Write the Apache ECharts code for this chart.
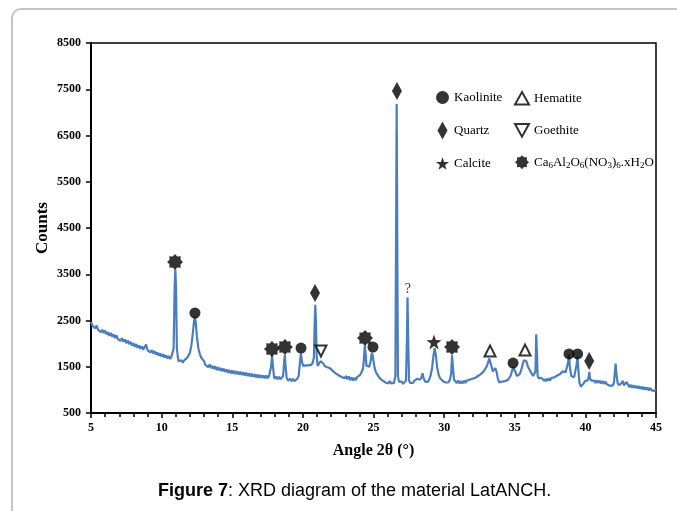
<!DOCTYPE html>
<html lang="en">
<head>
<meta charset="UTF-8">
<title>XRD LatANCH</title>
<style>
  * { margin: 0; padding: 0; }
  body { background: #fff; }
  #chart { width: 677px; height: 511px; }
</style>
</head>
<body>
<div id="chart"></div>
<script src="https://cdn.jsdelivr.net/npm/echarts@6/dist/echarts.min.js"></script>
<script>
// scan: [2theta, counts]
var xrdScan = [
  [5.0,2470],[5.1,2390],[5.2,2420],[5.3,2330],[5.4,2390],[5.5,2300],[5.6,2330],[5.7,2250],[5.8,2300],[5.9,2230],
  [6.0,2280],[6.1,2200],[6.2,2250],[6.3,2170],[6.4,2230],[6.5,2150],[6.6,2200],[6.7,2120],[6.8,2180],[6.9,2100],
  [7.0,2140],[7.1,2060],[7.2,2120],[7.3,2040],[7.4,2090],[7.5,2010],[7.6,2070],[7.7,1990],[7.8,2040],[7.9,1960],
  [8.0,2010],[8.1,1930],[8.2,1990],[8.3,1910],[8.4,1960],[8.5,1890],[8.6,1940],[8.7,1870],[8.8,1930],[8.9,1980],
  [9.0,1860],[9.1,1890],[9.2,1810],[9.3,1860],[9.4,1790],[9.5,1840],[9.6,1760],[9.7,1810],[9.8,1740],[9.9,1790],
  [10.0,1720],[10.1,1770],[10.2,1700],[10.3,1750],[10.4,1680],[10.5,1730],[10.6,1670],[10.7,1720],[10.8,1720],
  [10.85,1900],[10.92,3200],[10.97,3600],[11.02,3200],[11.08,1900],[11.15,1700],[11.2,1620],[11.3,1580],[11.4,1640],
  [11.5,1590],[11.6,1640],[11.7,1640],[11.8,1690],[11.9,1720],[12.0,1800],[12.1,1950],[12.2,2200],[12.3,2500],
  [12.36,2580],[12.42,2450],[12.5,2150],[12.6,1900],[12.7,1780],[12.8,1700],[12.9,1660],[13.0,1620],[13.1,1540],
  [13.2,1570],[13.3,1490],[13.4,1550],[13.5,1470],[13.6,1520],[13.7,1450],[13.8,1510],[13.9,1430],[14.0,1490],
  [14.1,1420],[14.2,1470],[14.3,1400],[14.4,1460],[14.5,1390],[14.6,1440],[14.7,1370],[14.8,1430],[14.9,1360],
  [15.0,1420],[15.1,1350],[15.2,1410],[15.3,1340],[15.4,1400],[15.5,1330],[15.6,1390],[15.7,1320],[15.8,1380],
  [15.9,1310],[16.0,1370],[16.1,1300],[16.2,1360],[16.3,1290],[16.4,1350],[16.5,1280],[16.6,1340],[16.7,1270],
  [16.8,1330],[16.9,1260],[17.0,1320],[17.1,1260],[17.2,1310],[17.3,1250],[17.4,1310],[17.5,1250],[17.6,1300],
  [17.7,1320],[17.75,1500],[17.82,1740],[17.88,1520],[17.95,1300],[18.0,1240],[18.1,1290],[18.2,1230],[18.3,1280],
  [18.4,1230],[18.5,1270],[18.6,1300],[18.66,1550],[18.72,1760],[18.78,1500],[18.85,1260],[18.95,1200],[19.1,1240],
  [19.2,1190],[19.3,1240],[19.4,1190],[19.5,1230],[19.6,1240],[19.7,1300],[19.78,1550],[19.86,1790],[19.94,1600],
  [20.02,1520],[20.1,1560],[20.2,1530],[20.3,1570],[20.4,1530],[20.5,1570],[20.6,1540],[20.7,1590],[20.78,1700],
  [20.84,2500],[20.88,2840],[20.92,2500],[20.98,1700],[21.05,1520],[21.15,1570],[21.25,1620],[21.35,1590],
  [21.45,1570],[21.55,1510],[21.65,1530],[21.75,1490],[21.85,1520],[21.95,1460],[22.05,1470],[22.15,1400],
  [22.25,1420],[22.35,1350],[22.45,1380],[22.55,1310],[22.65,1350],[22.75,1280],[22.85,1320],[22.95,1250],
  [23.05,1300],[23.15,1230],[23.25,1290],[23.35,1210],[23.45,1270],[23.55,1200],[23.65,1260],[23.75,1210],
  [23.85,1280],[23.95,1270],[24.05,1320],[24.15,1380],[24.25,1450],[24.32,1650],[24.38,1960],[24.44,1800],
  [24.5,1520],[24.6,1480],[24.7,1500],[24.8,1620],[24.88,1800],[24.95,1740],[25.05,1520],[25.15,1400],[25.25,1340],
  [25.35,1310],[25.45,1250],[25.55,1270],[25.65,1200],[25.75,1230],[25.85,1160],[25.95,1200],[26.05,1140],
  [26.15,1190],[26.25,1140],[26.35,1180],[26.45,1150],[26.55,1300],[26.6,4500],[26.64,7180],[26.68,4500],
  [26.73,1300],[26.8,1180],[26.9,1140],[27.0,1180],[27.1,1130],[27.2,1170],[27.3,1200],[27.36,2000],[27.41,3000],
  [27.46,2000],[27.52,1200],[27.6,1150],[27.7,1190],[27.8,1150],[27.9,1200],[28.0,1180],[28.1,1240],[28.2,1230],
  [28.3,1220],[28.4,1280],[28.47,1360],[28.54,1260],[28.65,1180],[28.75,1200],[28.85,1170],[28.95,1230],
  [29.05,1320],[29.15,1480],[29.25,1750],[29.33,1900],[29.41,1760],[29.5,1500],[29.6,1340],[29.7,1260],[29.8,1230],
  [29.9,1190],[30.0,1210],[30.1,1160],[30.2,1200],[30.3,1160],[30.4,1210],[30.5,1350],[30.56,1750],[30.62,1500],
  [30.7,1220],[30.8,1200],[30.9,1150],[31.0,1200],[31.1,1140],[31.2,1190],[31.3,1140],[31.4,1200],[31.5,1150],
  [31.6,1200],[31.7,1160],[31.8,1220],[31.9,1180],[32.0,1240],[32.1,1200],[32.2,1260],[32.3,1230],[32.4,1300],
  [32.5,1270],[32.6,1340],[32.7,1340],[32.8,1400],[32.9,1440],[33.0,1500],[33.1,1580],[33.2,1680],[33.28,1660],
  [33.36,1500],[33.45,1400],[33.55,1440],[33.63,1470],[33.72,1380],[33.8,1250],[33.9,1160],[34.0,1140],[34.1,1180],
  [34.2,1150],[34.3,1190],[34.4,1160],[34.5,1210],[34.6,1240],[34.7,1300],[34.8,1400],[34.9,1490],[34.98,1480],
  [35.06,1380],[35.15,1300],[35.25,1290],[35.35,1340],[35.45,1420],[35.55,1540],[35.65,1640],[35.73,1680],
  [35.82,1620],[35.92,1520],[36.0,1460],[36.1,1420],[36.2,1350],[36.3,1300],[36.4,1280],[36.47,1400],[36.52,2200],
  [36.57,1800],[36.62,1300],[36.7,1250],[36.8,1210],[36.9,1260],[37.0,1240],[37.1,1190],[37.2,1240],[37.3,1190],
  [37.4,1250],[37.5,1200],[37.6,1260],[37.7,1220],[37.8,1270],[37.9,1240],[38.0,1310],[38.1,1290],[38.2,1340],
  [38.3,1350],[38.4,1400],[38.5,1420],[38.6,1380],[38.7,1400],[38.78,1600],[38.84,1760],[38.9,1500],[39.0,1300],
  [39.1,1280],[39.2,1270],[39.3,1300],[39.38,1550],[39.44,1720],[39.5,1450],[39.58,1150],[39.68,1070],[39.78,1110],
  [39.88,1140],[39.98,1190],[40.08,1160],[40.18,1210],[40.24,1300],[40.28,1390],[40.33,1250],[40.42,1200],
  [40.52,1160],[40.62,1200],[40.72,1150],[40.82,1210],[40.92,1150],[41.02,1200],[41.12,1140],[41.22,1190],
  [41.32,1130],[41.42,1180],[41.52,1120],[41.62,1150],[41.72,1090],[41.82,1120],[41.92,1090],[42.02,1150],
  [42.08,1350],[42.14,1570],[42.2,1350],[42.28,1150],[42.38,1100],[42.48,1130],[42.58,1150],[42.65,1200],
  [42.72,1100],[42.82,1090],[42.92,1170],[43.0,1120],[43.1,1060],[43.2,1110],[43.3,1050],[43.4,1100],[43.5,1040],
  [43.6,1090],[43.7,1030],[43.8,1080],[43.9,1020],[44.0,1070],[44.1,1010],[44.2,1060],[44.3,1000],[44.4,1050],
  [44.5,990],[44.6,1040],[44.7,990],[44.8,1030],[44.9,980],[45.0,1010]
];

// where the phase symbols sit above the peaks
var kaoliniteAt = [[12.36,2662],[19.87,1905],[24.96,1927],[34.88,1580],[38.84,1776],[39.45,1776]];
var quartzAt = [[20.86,3095],[26.66,7462],[40.27,1624]];
var calciteAt = [[29.28,2035]];
var hematiteAt = [[33.25,1840],[35.73,1860]];
var goethiteAt = [[21.28,1840]];
var ca6At = [[10.95,3765],[17.81,1884],[18.73,1927],[24.40,2120],[30.56,1927]];
var unknownAt = [[27.44,3180]];

var xTicks = { min: 5, max: 45, step: 5 };
var yTicks = { min: 500, max: 8500, step: 1000 };

var CA6_NAME = 'Ca6Al2O6(NO3)6.xH2O';
var burstPath = 'path://M20 10 L16.93 12.87 L17.07 17.07 L12.87 16.93 L10 20 L7.13 16.93 L2.93 17.07 L3.07 12.87 L0 10 L3.07 7.13 L2.93 2.93 L7.13 3.07 L10 0 L12.87 3.07 L17.07 2.93 L16.93 7.13 Z';
var starPath = 'path://M10 0 L12.35 6.76 L19.51 6.91 L13.8 11.24 L15.88 18.09 L10 14 L4.12 18.09 L6.2 11.24 L0.49 6.91 L7.65 6.76 Z';
var diamondPath = 'path://M5 0 L10 9 L5 18 L0 9 Z';
var upTriPath = 'path://M10 0 L20 18 L0 18 Z';
var downTriPath = 'path://M0 0 L20 0 L10 18 Z';

var serif = '"Liberation Serif", "Times New Roman", serif';

var chart = echarts.init(document.getElementById('chart'));

function legendFmt(name) {
    if (name === CA6_NAME) {
        return '{n|Ca}{s|6}{n|Al}{s|2}{n|O}{s|6}{n|(NO}{s|3}{n|)}{s|6}{n|.xH}{s|2}{n|O}';
    }
    return '{n|' + name + '}';
}
var legendText = {
    fontFamily: serif,
    color: '#000',
    rich: {
        n: { fontFamily: serif, fontSize: 13, color: '#000' },
        s: { fontFamily: serif, fontSize: 9, color: '#000', padding: [7, 0, 0, 0] }
    }
};

function phase(name, data, symbol, size, style, rotate) {
    return {
        name: name,
        type: 'scatter',
        data: data,
        symbol: symbol,
        symbolSize: size,
        symbolRotate: rotate || 0,
        itemStyle: style,
        z: 5,
        silent: true
    };
}

var option = {
    animation: false,
    backgroundColor: '#fff',
    grid: {
        left: 91, right: 21, top: 43, bottom: 98,
        show: true, borderColor: '#000', borderWidth: 1.5, backgroundColor: 'transparent'
    },
    legend: [
        {
            data: ['Kaolinite', { name: 'Quartz', icon: diamondPath }, 'Calcite'],
            orient: 'vertical', left: 431, top: 86,
            itemWidth: 13, itemHeight: 18, itemGap: 17.5,
            selectedMode: false, formatter: legendFmt, textStyle: legendText
        },
        {
            data: [{ name: 'Hematite', icon: upTriPath }, { name: 'Goethite', icon: downTriPath }, CA6_NAME],
            orient: 'vertical', left: 509, top: 86,
            itemWidth: 14, itemHeight: 18, itemGap: 17.5,
            selectedMode: false, formatter: legendFmt, textStyle: legendText
        }
    ],
    xAxis: {
        type: 'value',
        min: xTicks.min, max: xTicks.max, interval: xTicks.step,
        name: 'Angle 2θ (°)',
        nameLocation: 'middle', nameGap: 30,
        nameTextStyle: { fontFamily: serif, fontWeight: 'bold', fontSize: 16, color: '#000' },
        axisLine: { lineStyle: { color: '#000', width: 2 } },
        axisTick: { inside: false, length: 5, lineStyle: { color: '#000', width: 1.5 } },
        minorTick: { show: true, splitNumber: 5, length: 4, lineStyle: { color: '#000', width: 1.5 } },
        axisLabel: { fontFamily: serif, fontWeight: 'bold', fontSize: 12, color: '#000', margin: 9 },
        splitLine: { show: false }
    },
    yAxis: {
        type: 'value',
        min: yTicks.min, max: yTicks.max, interval: yTicks.step,
        name: 'Counts',
        nameLocation: 'middle', nameGap: 40,
        nameMoveOverlap: false,
        nameTextStyle: { fontFamily: serif, fontWeight: 'bold', fontSize: 17, color: '#000' },
        axisLine: { lineStyle: { color: '#000', width: 2 } },
        axisTick: { inside: false, length: 5, lineStyle: { color: '#000', width: 1.5 } },
        axisLabel: {
            fontFamily: serif, fontWeight: 'bold', fontSize: 12, color: '#000', margin: 10,
            formatter: function (v) { return String(v); }
        },
        splitLine: { show: false }
    },
    series: [
        {
            name: 'scan',
            type: 'line',
            data: xrdScan,
            showSymbol: false,
            lineStyle: { color: '#4a7ebf', width: 2.2 },
            silent: true,
            z: 2
        },
        phase('Kaolinite', kaoliniteAt, 'circle', 11, { color: '#000' }),
        phase('Quartz', quartzAt, 'diamond', [10, 18], { color: '#000' }),
        phase('Calcite', calciteAt, starPath, 15, { color: '#000' }),
        phase('Hematite', hematiteAt, 'triangle', [11, 11], { color: '#fff', borderColor: '#000', borderWidth: 2 }),
        phase('Goethite', goethiteAt, 'triangle', [11, 11], { color: '#fff', borderColor: '#000', borderWidth: 2 }, 180),
        phase(CA6_NAME, ca6At, burstPath, 16, { color: '#000' }),
        {
            name: 'unknown',
            type: 'scatter',
            data: unknownAt,
            symbolSize: 1,
            itemStyle: { color: 'transparent' },
            label: {
                show: true, position: 'inside', formatter: '?',
                fontFamily: serif, fontSize: 14, color: '#000'
            },
            silent: true
        }
    ],
    graphic: [
        {
            type: 'rect',
            shape: { x: 12, y: 9, width: 720, height: 560, r: 9 },
            style: { fill: 'none', stroke: '#c4c4c4', lineWidth: 2 },
            silent: true
        },
        {
            type: 'text',
            left: 158,
            top: 482,
            style: {
                text: '{b|Figure 7}: XRD diagram of the material LatANCH.',
                font: '18px "Liberation Sans", Arial, sans-serif',
                fill: '#000',
                rich: {
                    b: { fontFamily: '"Liberation Sans", Arial, sans-serif', fontSize: 18, fontWeight: 'bold', color: '#000' }
                }
            }
        }
    ]
};

chart.setOption(option);
</script>
</body>
</html>
